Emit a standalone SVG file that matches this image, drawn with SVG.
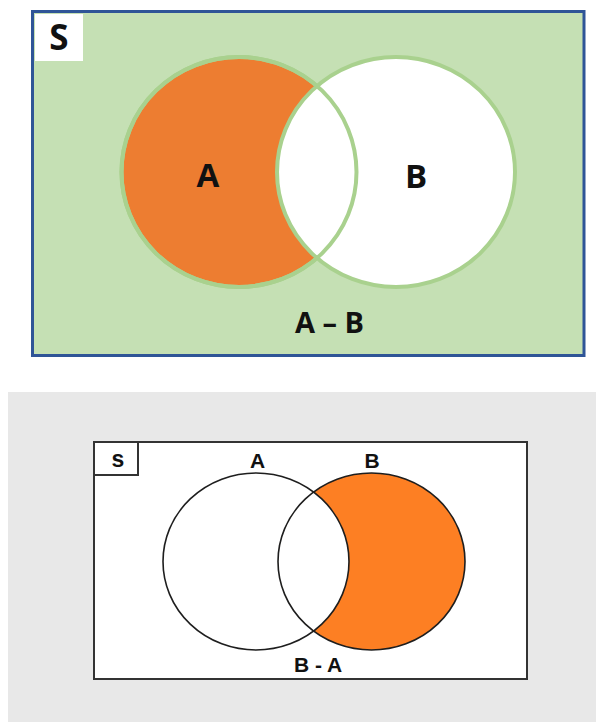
<svg xmlns="http://www.w3.org/2000/svg" width="596" height="722" viewBox="0 0 596 722">
<style>
.t1{font-family:"Open Sans","Liberation Sans",sans-serif;font-weight:bold;fill:#111;text-anchor:middle}
.t2{font-family:"Liberation Sans",Arial,sans-serif;font-weight:bold;fill:#111;text-anchor:middle}
.gs{stroke:#a9d18e;stroke-width:4}
.bs{stroke:#1e1e1e;stroke-width:1.6}
</style>
<defs>
<clipPath id="clipB2"><ellipse cx="371.5" cy="561.5" rx="93.5" ry="88.5"/></clipPath>
</defs>
<rect x="0" y="0" width="596" height="722" fill="#ffffff"/>
<g id="panel-top">
<rect x="32.5" y="11.5" width="551.5" height="344" fill="#c5e0b4" stroke="#2f5597" stroke-width="3"/>
<g id="top-universe-label">
<rect x="35" y="14" width="48" height="47" fill="#ffffff"/>
<text class="t1" x="59" y="50" font-size="35">S</text>
</g>
<g id="top-set-A">
<ellipse cx="239" cy="172" rx="117.5" ry="115" fill="#ed7d31" class="gs"/>
</g>
<g id="top-set-B">
<ellipse cx="396" cy="172" rx="119" ry="115" fill="#ffffff" class="gs"/>
</g>
<g id="top-outline-A">
<ellipse cx="239" cy="172" rx="117.5" ry="115" fill="none" class="gs"/>
</g>
<text class="t1" x="208" y="187" font-size="33">A</text>
<text class="t1" x="416" y="188" font-size="33">B</text>
<text class="t1" x="329.5" y="333" font-size="29">A – B</text>
</g>
<g id="panel-bottom">
<rect x="8" y="392" width="588" height="330" fill="#e8e8e8"/>
<rect x="94" y="442" width="433" height="237" fill="#ffffff" stroke="#333333" stroke-width="2"/>
<g id="bottom-universe-label">
<rect x="94" y="442" width="44" height="33" fill="#ffffff" stroke="#333333" stroke-width="2"/>
<text class="t2" x="118" y="467" font-size="23">s</text>
</g>
<g id="bottom-set-A">
<ellipse cx="256" cy="561.5" rx="93" ry="88.5" fill="#ffffff"/>
</g>
<g id="bottom-set-B">
<ellipse cx="371.5" cy="561.5" rx="93.5" ry="88.5" fill="#fd7f23"/>
<ellipse cx="256" cy="561.5" rx="93" ry="88.5" fill="#ffffff" clip-path="url(#clipB2)"/>
</g>
<g id="bottom-outlines">
<ellipse cx="256" cy="561.5" rx="93" ry="88.5" fill="none" class="bs"/>
<ellipse cx="371.5" cy="561.5" rx="93.5" ry="88.5" fill="none" class="bs"/>
</g>
<text class="t2" x="257.5" y="468" font-size="21">A</text>
<text class="t2" x="372" y="468" font-size="21">B</text>
<text class="t2" x="318" y="672" font-size="21">B - A</text>
</g>
</svg>
